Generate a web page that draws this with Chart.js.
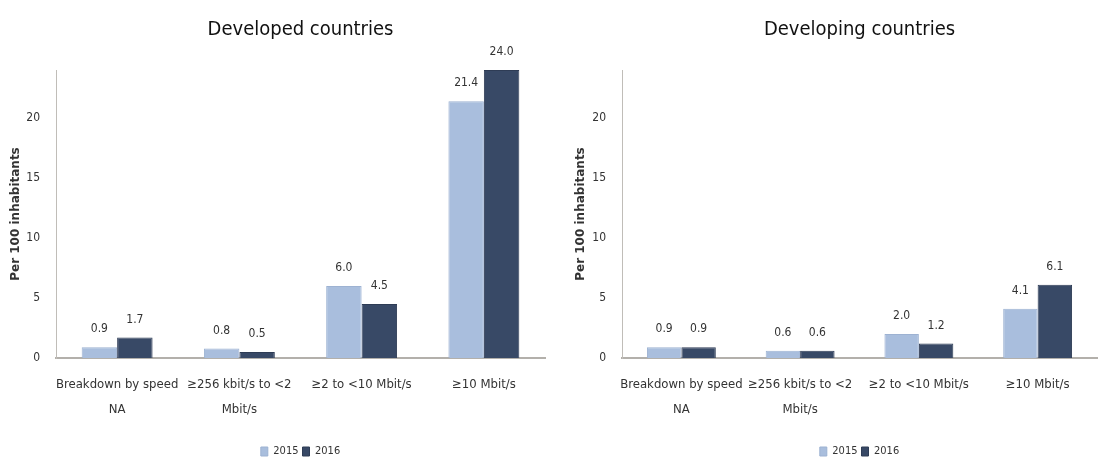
<!DOCTYPE html>
<html>
<head>
<meta charset="utf-8">
<script src="https://cdn.jsdelivr.net/npm/chart.js@4/dist/chart.umd.min.js"></script>
<style>
  html, body { margin: 0; padding: 0; background: #fff; }
  .box { position: absolute; top: 0; height: 457px; }
  #left { left: 0; width: 555px; }
  #right { left: 565px; width: 535px; }
</style>
</head>
<body>
<div class="box" id="left"><canvas id="developed"></canvas></div>
<div class="box" id="right"><canvas id="developing"></canvas></div>
<script>
'use strict';

let categories = [
  ['Breakdown by speed', 'NA'],
  ['\u2265256 kbit/s to <2', 'Mbit/s'],
  '\u22652 to <10 Mbit/s',
  '\u226510 Mbit/s'
];
let years = ['2015', '2016'];
let developed2015 = [0.9, 0.8, 6.0, 21.4];
let developed2016 = [1.7, 0.5, 4.5, 24.0];
let developing2015 = [0.9, 0.6, 2.0, 4.1];
let developing2016 = [0.9, 0.6, 1.2, 6.1];
let yTicks = [0, 5, 10, 15, 20];
let yMax = 24;

let fontFamily = "'DejaVu Sans Condensed', 'Liberation Sans', sans-serif";
let lightBlue = '#a9bedd';
let darkBlue = '#384966';

// values written above every bar
let barLabels = {
  id: 'barLabels',
  afterDatasetsDraw(chart) {
    let ctx = chart.ctx;
    ctx.save();
    ctx.font = '12px ' + fontFamily;
    ctx.fillStyle = '#333';
    ctx.textAlign = 'center';
    ctx.textBaseline = 'bottom';
    chart.data.datasets.forEach(function (ds, i) {
      chart.getDatasetMeta(i).data.forEach(function (bar, j) {
        ctx.fillText(ds.data[j].toFixed(1), bar.x, bar.y - 12);
      });
    });
    ctx.restore();
  }
};

function makeChart(canvasId, title, values2015, values2016, yWidth, rightPad) {
  let canvasElem = document.getElementById(canvasId);
  return new Chart(canvasElem, {
    type: 'bar',
    data: {
      labels: categories,
      datasets: [{
        label: years[0],
        data: values2015,
        backgroundColor: lightBlue,
        borderColor: '#9db2d2',
        borderWidth: 1
      }, {
        label: years[1],
        data: values2016,
        backgroundColor: darkBlue,
        borderColor: '#2e3c55',
        borderWidth: 1
      }]
    },
    options: {
      responsive: true,
      maintainAspectRatio: false,
      animation: false,
      categoryPercentage: 0.58,
      barPercentage: 1.0,
      layout: { padding: { left: 9, right: rightPad, top: 6, bottom: -10 } },
      plugins: {
        title: {
          display: true,
          text: title,
          fullSize: false,
          color: '#111',
          font: { family: fontFamily, size: 20, weight: 'normal' },
          padding: { top: 12, bottom: 28 }
        },
        legend: {
          position: 'bottom',
          fullSize: false,
          labels: {
            color: '#333',
            font: { family: fontFamily, size: 11 },
            boxWidth: 7,
            boxHeight: 9,
            padding: 4
          }
        },
        tooltip: { enabled: false }
      },
      scales: {
        x: {
          grid: { display: false },
          border: { color: '#b3b0ab', width: 2 },
          afterFit(scale) {
            scale.height = 84;
          },
          ticks: {
            color: '#333',
            font: { family: fontFamily, size: 13, lineHeight: 1.95 },
            padding: 6,
            maxRotation: 0,
            autoSkip: false
          }
        },
        y: {
          min: 0,
          max: yMax,
          grid: { display: false },
          border: { color: '#c0bdb8', width: 1 },
          afterBuildTicks(scale) {
            scale.ticks = yTicks.map(v => ({ value: v }));
          },
          afterFit(scale) {
            scale.width = yWidth;
          },
          ticks: {
            color: '#333',
            font: { family: fontFamily, size: 12 },
            padding: 8
          },
          title: {
            display: true,
            text: 'Per 100 inhabitants',
            color: '#333',
            font: { family: 'DejaVu Sans', size: 12, weight: 'bold' },
            padding: { top: 0, bottom: 8 }
          }
        }
      }
    },
    plugins: [barLabels]
  });
}

makeChart('developed', 'Developed countries', developed2015, developed2016, 47, 10);
makeChart('developing', 'Developing countries', developing2015, developing2016, 48, 3);
</script>
</body>
</html>
